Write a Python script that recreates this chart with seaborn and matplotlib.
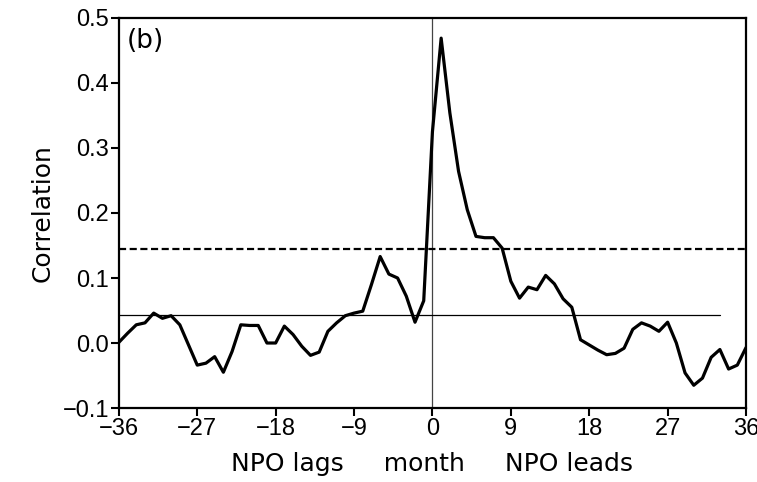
import numpy as np
import pandas as pd
import matplotlib
matplotlib.use("Agg")
import matplotlib.pyplot as plt
import seaborn as sns

# lag in months (negative: NPO lags, positive: NPO leads)
lags = list(range(-36, 37))
corr = [
    0.001, 0.015, 0.028, 0.031, 0.046, 0.038, 0.042, 0.028, -0.003,
    -0.034, -0.031, -0.021, -0.045, -0.013, 0.028, 0.027, 0.027, 0.0,
    0.0, 0.026, 0.013, -0.005, -0.019, -0.014, 0.018, 0.031, 0.042,
    0.046, 0.049, 0.090, 0.133, 0.106, 0.100, 0.072, 0.032, 0.065,
    0.325,
    0.469, 0.354, 0.264, 0.205, 0.164, 0.162, 0.162, 0.146, 0.095,
    0.069, 0.086, 0.082, 0.104, 0.091, 0.068, 0.055, 0.005, -0.003,
    -0.011, -0.018, -0.016, -0.008, 0.021, 0.031, 0.026, 0.018, 0.032,
    0.0, -0.046, -0.065, -0.054, -0.022, -0.010, -0.040, -0.034, -0.007,
]
sig_level = 0.145     # dashed line
ref_level = 0.043     # thin line
ref_end = 33

df = pd.DataFrame({"lag": lags, "corr": corr})

sns.set_theme(style="ticks")
plt.rcParams["font.family"] = ["DejaVu Sans"]
plt.rcParams["text.color"] = "black"
plt.rcParams["axes.labelcolor"] = "black"

fig = plt.figure(figsize=(7.57, 4.82), dpi=100)
ax = fig.add_axes([0.157, 0.1535, 0.8285, 0.8092])

ax.axvline(0, color="#444444", lw=0.9, zorder=1)
ax.plot([-36, ref_end], [ref_level, ref_level], color="black", lw=0.9, zorder=1)
ax.axhline(sig_level, color="black", lw=1.6, ls=(0, (3.2, 1.6)), zorder=2)
sns.lineplot(data=df, x="lag", y="corr", color="black", lw=2.3, ax=ax, zorder=3)

ax.set_xlim(-36, 36)
ax.set_ylim(-0.1, 0.5)
ax.set_xticks(range(-36, 37, 9))
ax.set_yticks(np.arange(-0.1, 0.51, 0.1))
ax.set_yticklabels(["\u22120.1", "0.0", "0.1", "0.2", "0.3", "0.4", "0.5"])
ax.set_xticklabels([str(v).replace("-", "\u2212") for v in range(-36, 37, 9)])

for lab in ax.get_xticklabels() + ax.get_yticklabels():
    lab.set_fontfamily(["Liberation Sans", "DejaVu Sans"])
    lab.set_fontsize(17)

ax.tick_params(direction="out", length=6, width=1.5, pad=1, colors="black")
for s in ax.spines.values():
    s.set_linewidth(1.6)
    s.set_color("black")

ax.set_ylabel("Correlation", fontsize=18, labelpad=6)
ax.set_xlabel("NPO lags     month     NPO leads", fontsize=18, labelpad=9)
ax.text(0.013, 0.975, "(b)", transform=ax.transAxes, fontsize=19, va="top", ha="left")

fig.savefig("out.png", dpi=100)
